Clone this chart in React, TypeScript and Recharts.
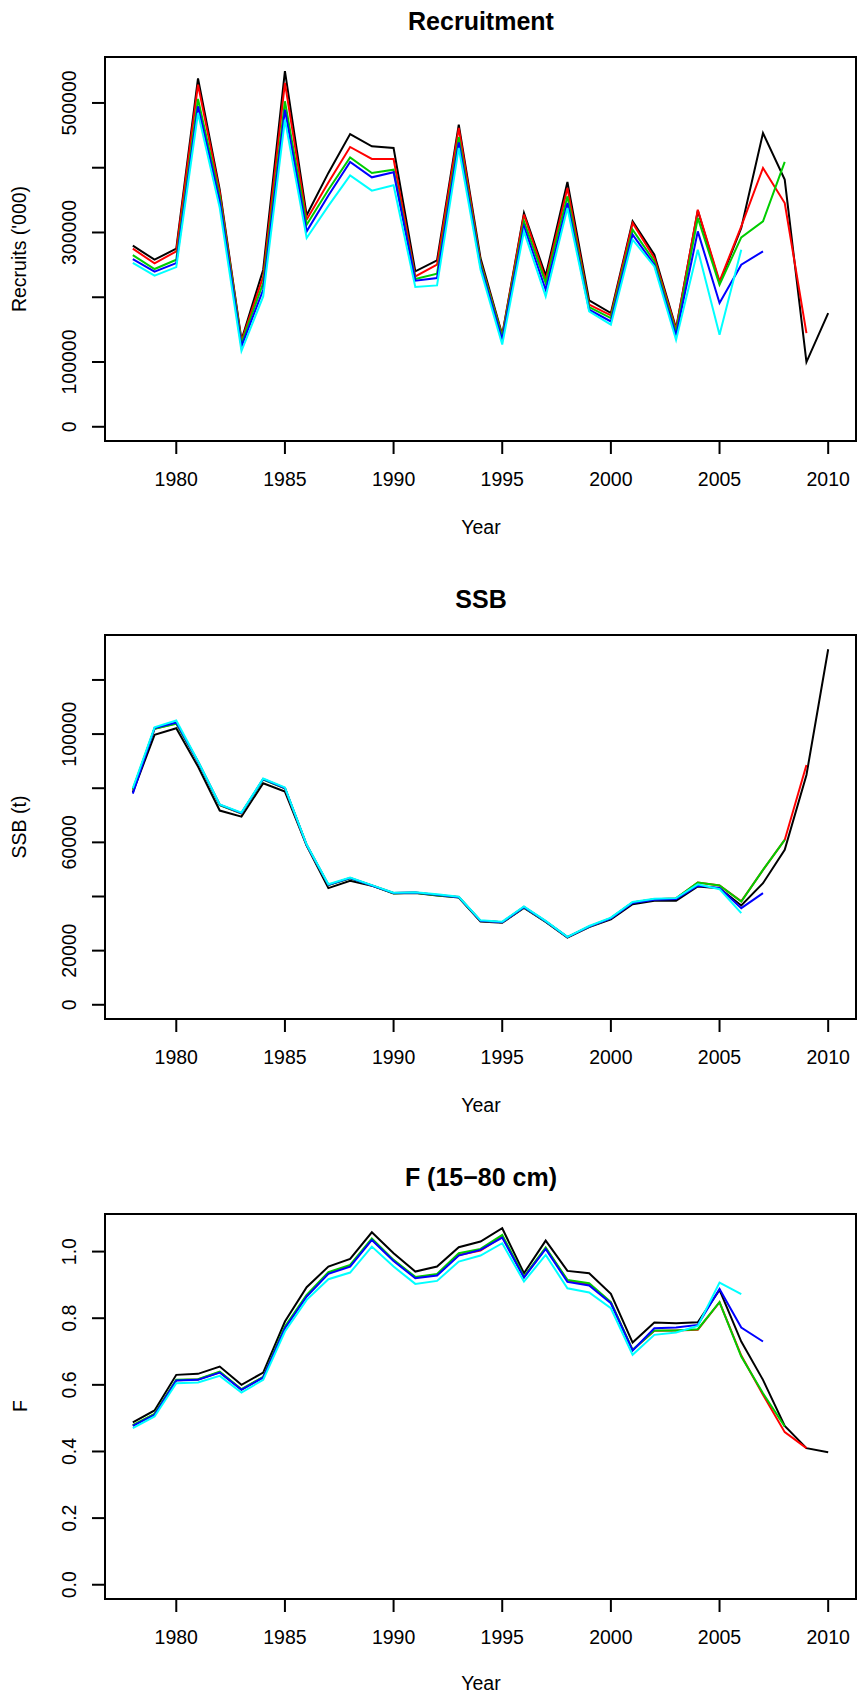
import { LineChart, Line, XAxis, YAxis, ReferenceArea } from 'recharts';

const years = [
  1978, 1979, 1980, 1981, 1982, 1983, 1984, 1985, 1986, 1987, 1988, 1989, 1990, 1991, 1992, 1993, 1994,
  1995, 1996, 1997, 1998, 1999, 2000, 2001, 2002, 2003, 2004, 2005, 2006, 2007, 2008, 2009, 2010,
];

// Recruits ('000), one array per retrospective run
const recBlack = [
  279600, 258000, 275000, 538000, 366000, 134000, 242500, 549000, 326500, 392000, 452000, 433000, 430500,
  240000, 257000, 466500, 260500, 142000, 330000, 233300, 378000, 195200, 175600, 317200, 265700, 152000,
  333700, 222000, 306900, 453600, 381600, 99900, 175600,
];
const recRed = [
  275000, 252300, 270900, 528300, 362000, 132000, 232000, 530900, 319800, 377000, 432000, 413500, 413500,
  232200, 250300, 461400, 255000, 140500, 327500, 227100, 368700, 188500, 172000, 314600, 260600, 150000,
  335200, 224500, 309500, 399600, 345500, 144700, null,
];
const recGreen = [
  265000, 243600, 258000, 506200, 355000, 129000, 222000, 502600, 312000, 366000, 416000, 391900, 397000,
  228100, 236400, 447000, 252000, 138500, 317200, 222000, 355800, 184900, 167900, 304300, 255400, 146000,
  322300, 219400, 292500, 317200, 408900, null, null,
];
const recBlue = [
  259000, 239400, 252800, 494800, 348000, 124000, 211600, 489700, 301700, 357000, 408900, 385200, 392900,
  225500, 229700, 439200, 248000, 134500, 309500, 211600, 345500, 180700, 162700, 296600, 250300, 141000,
  301700, 191000, 250300, 270900, null, null, null,
];
const recCyan = [
  253000, 233300, 246600, 484500, 338000, 117000, 201300, 474300, 291500, 341000, 388200, 364600, 372800,
  215800, 218300, 430500, 243000, 127000, 301700, 201300, 337800, 178200, 157600, 288900, 247700, 134000,
  273400, 142100, 273400, null, null, null, null,
];

// SSB (t)
const ssbBlack = [
  78500, 99700, 102150, 88000, 71750, 69500, 81850, 78770, 58800, 43100, 45800, 44000, 41100, 41300, 40400,
  39600, 30800, 30300, 35800, 30600, 24800, 28700, 31600, 37170, 38400, 38400, 43700, 43080, 36680, 44900,
  57230, 84900, 131350,
];
const ssbRed = [
  79500, 102000, 104000, 89800, 73800, 70700, 83300, 80000, 59000, 44300, 46800, 44100, 41300, 41500, 40600,
  39800, 31000, 30500, 36100, 30800, 25000, 28900, 32000, 37800, 39000, 39300, 45200, 44100, 38200, 49800,
  60900, 88600, null,
];
const ssbGreen = [
  79500, 102000, 103800, 89800, 73700, 70700, 83200, 80000, 59000, 44200, 46700, 44000, 41200, 41400, 40500,
  39700, 31000, 30500, 36000, 30700, 25000, 28900, 32000, 37800, 39000, 39300, 45200, 44100, 38150, 49850,
  60950, null, null,
];
const ssbBlue = [
  78000, 102200, 104300, 89800, 73900, 70800, 83400, 80100, 59000, 44300, 46800, 44060, 41250, 41500, 40600,
  39750, 31000, 30500, 36100, 30800, 25000, 28900, 31900, 37600, 38800, 39100, 44000, 43200, 35700, 41230,
  null, null, null,
];
const ssbCyan = [
  80000, 102500, 105000, 90000, 74000, 71000, 83600, 80300, 59200, 44500, 47000, 44200, 41400, 41600, 40800,
  39900, 31200, 30700, 36300, 31000, 25100, 29100, 32200, 38000, 39200, 39400, 44500, 42700, 33850, null,
  null, null, null,
];

// F (15-80 cm)
const fBlack = [
  0.487, 0.523, 0.63, 0.633, 0.655, 0.6, 0.637, 0.79, 0.893, 0.955, 0.978, 1.058, 0.995, 0.94, 0.955, 1.013,
  1.03, 1.07, 0.935, 1.033, 0.942, 0.935, 0.873, 0.727, 0.787, 0.785, 0.788, 0.885, 0.73, 0.615, 0.477, 0.41,
  0.398,
];
const fRed = [
  0.478, 0.512, 0.614, 0.616, 0.638, 0.586, 0.623, 0.772, 0.867, 0.936, 0.958, 1.036, 0.973, 0.922, 0.93,
  0.99, 1.003, 1.045, 0.924, 1.01, 0.913, 0.902, 0.847, 0.704, 0.762, 0.763, 0.765, 0.848, 0.688, 0.57, 0.458,
  0.41, null,
];
const fGreen = [
  0.479, 0.513, 0.615, 0.617, 0.64, 0.587, 0.624, 0.775, 0.87, 0.938, 0.96, 1.039, 0.975, 0.924, 0.933, 0.995,
  1.008, 1.05, 0.925, 1.012, 0.915, 0.905, 0.848, 0.705, 0.763, 0.763, 0.767, 0.848, 0.685, 0.575, 0.475,
  null, null,
];
const fBlue = [
  0.477, 0.51, 0.613, 0.615, 0.637, 0.585, 0.622, 0.77, 0.865, 0.933, 0.955, 1.035, 0.972, 0.92, 0.928, 0.988,
  1.005, 1.042, 0.922, 1.008, 0.909, 0.898, 0.845, 0.703, 0.77, 0.772, 0.78, 0.888, 0.772, 0.73, null, null,
  null,
];
const fCyan = [
  0.47, 0.505, 0.605, 0.607, 0.627, 0.577, 0.615, 0.76, 0.855, 0.917, 0.937, 1.015, 0.955, 0.903, 0.912, 0.97,
  0.988, 1.025, 0.91, 0.99, 0.89, 0.877, 0.83, 0.69, 0.75, 0.757, 0.777, 0.907, 0.872, null, null, null, null,
];

const xTicks = [1980, 1985, 1990, 1995, 2000, 2005, 2010];
const recTicks = [0, 100000, 200000, 300000, 400000, 500000];
const recShown = [0, 100000, 300000, 500000];
const ssbTicks = [0, 20000, 40000, 60000, 80000, 100000, 120000];
const ssbShown = [0, 20000, 60000, 100000];
const fTicks = [0, 0.2, 0.4, 0.6, 0.8, 1.0];

const COLORS = ['#000000', '#ff0000', '#00cd00', '#0000ff', '#00ffff'];
const FONT = '"Liberation Sans", Arial, Helvetica, sans-serif';
const W = 857;
const X_DOMAIN: [number, number] = [1976.72, 2011.28];

type PanelProps = {
  top: number;
  height: number;
  boxTop: number;
  boxBottom: number;
  series: (number | null)[][];
  yDomain: [number, number];
  yTicks: number[];
  fmt: (v: number) => string;
};

const Panel = ({ top, height, boxTop, boxBottom, series, yDomain, yTicks, fmt }: PanelProps) => {
  const rows = years.map((year, i) => {
    const row: Record<string, number | null> = { year };
    series.forEach((s, k) => {
      row['s' + k] = s[i];
    });
    return row;
  });

  const xTick = (p: any) => (
    <text x={p.x} y={boxBottom + 44.5} textAnchor='middle' fontFamily={FONT} fontSize={19.5} fill='#000'>
      {p.payload.value}
    </text>
  );
  // R drops tick labels that would overlap, so some ticks stay unlabelled
  const yTick = (p: any) => {
    const label = fmt(p.payload.value);
    if (!label) return <g />;
    return (
      <text
        x={76}
        y={p.y}
        transform={`rotate(-90, 76, ${p.y})`}
        textAnchor='middle'
        fontFamily={FONT}
        fontSize={19.5}
        fill='#000'
      >
        {label}
      </text>
    );
  };

  return (
    <div style={{ position: 'absolute', left: 0, top }}>
      <LineChart width={W} height={height} data={rows} margin={{ top: boxTop, right: 1, bottom: 0, left: 0 }}>
        <XAxis
          dataKey='year'
          type='number'
          domain={X_DOMAIN}
          ticks={xTicks}
          interval={0}
          height={height - boxBottom}
          axisLine={false}
          tickSize={13}
          tickLine={{ stroke: '#000', strokeWidth: 2 }}
          tick={xTick}
        />
        <YAxis
          type='number'
          domain={yDomain}
          ticks={yTicks}
          interval={0}
          width={105}
          axisLine={false}
          tickSize={13}
          tickLine={{ stroke: '#000', strokeWidth: 2 }}
          tick={yTick}
        />
        <ReferenceArea
          x1={X_DOMAIN[0]}
          x2={X_DOMAIN[1]}
          y1={yDomain[0]}
          y2={yDomain[1]}
          fill='none'
          stroke='#000'
          strokeWidth={2}
          ifOverflow='visible'
        />
        {series.map((_, k) => (
          <Line
            key={k}
            dataKey={'s' + k}
            type='linear'
            stroke={COLORS[k]}
            strokeWidth={2}
            dot={false}
            activeDot={false}
            isAnimationActive={false}
          />
        ))}
      </LineChart>
    </div>
  );
};

const Txt = ({ x, y, size = 19.5, bold = false, rotate = false, children }: any) => (
  <text
    x={x}
    y={y}
    textAnchor='middle'
    fontFamily={FONT}
    fontSize={size}
    fontWeight={bold ? 'bold' : 'normal'}
    fill='#000'
    transform={rotate ? `rotate(-90, ${x}, ${y})` : undefined}
  >
    {children}
  </text>
);

export default function App() {
  return (
    <div style={{ position: 'absolute', left: 0, top: 0, width: W, height: 1697, background: '#fff' }}>
      <Panel
        top={0}
        height={560}
        boxTop={57}
        boxBottom={441}
        series={[recBlack, recRed, recGreen, recBlue, recCyan]}
        yDomain={[-21960, 570960]}
        yTicks={recTicks}
        fmt={(v) => (recShown.includes(v) ? String(v) : '')}
      />
      <Panel
        top={560}
        height={560}
        boxTop={75}
        boxBottom={459}
        series={[ssbBlack, ssbRed, ssbGreen, ssbBlue, ssbCyan]}
        yDomain={[-5254, 136604]}
        yTicks={ssbTicks}
        fmt={(v) => (ssbShown.includes(v) ? String(v) : '')}
      />
      <Panel
        top={1120}
        height={577}
        boxTop={94}
        boxBottom={479}
        series={[fBlack, fRed, fGreen, fBlue, fCyan]}
        yDomain={[-0.0428, 1.1128]}
        yTicks={fTicks}
        fmt={(v) => v.toFixed(1)}
      />
      <svg
        width={W}
        height={1697}
        style={{ position: 'absolute', left: 0, top: 0, pointerEvents: 'none' }}
      >
        <Txt x={481} y={29.5} size={25} bold>Recruitment</Txt>
        <Txt x={481} y={608} size={25} bold>SSB</Txt>
        <Txt x={481} y={1186} size={25} bold>F (15−80 cm)</Txt>
        <Txt x={481} y={534}>Year</Txt>
        <Txt x={481} y={1112}>Year</Txt>
        <Txt x={481} y={1690}>Year</Txt>
        <Txt x={26} y={249} rotate>Recruits ('000)</Txt>
        <Txt x={26} y={827} rotate>SSB (t)</Txt>
        <Txt x={27} y={1406} rotate>F</Txt>
      </svg>
    </div>
  );
}
